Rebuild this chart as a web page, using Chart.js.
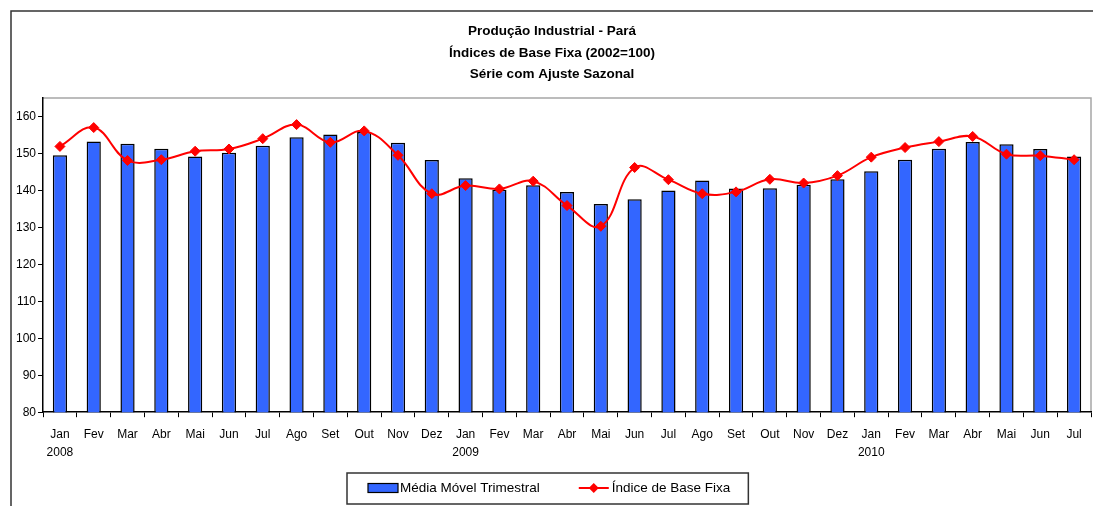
<!DOCTYPE html>
<html lang="pt-BR">
<head>
<meta charset="UTF-8">
<title>Produção Industrial - Pará</title>
<script src="https://cdn.jsdelivr.net/npm/chart.js"></script>
<style>
  html, body { margin: 0; padding: 0; background: #fff; }
  #wrap { width: 1093px; height: 506px; }
</style>
</head>
<body>
<div id="wrap"><canvas id="grafico" width="1093" height="506"></canvas></div>
<script>
// meses de jan/2008 a jul/2010
const meses = ['Jan','Fev','Mar','Abr','Mai','Jun','Jul','Ago','Set','Out','Nov','Dez',
               'Jan','Fev','Mar','Abr','Mai','Jun','Jul','Ago','Set','Out','Nov','Dez',
               'Jan','Fev','Mar','Abr','Mai','Jun','Jul'];
const anos = ['2008','','','','','','','','','','','',
              '2009','','','','','','','','','','','',
              '2010','','','','','',''];

// Média Móvel Trimestral (barras)
const mediaMovel = [149.5, 153.2, 152.6, 151.3, 149.2, 150.2, 152.1, 154.4, 155.1, 155.8, 152.9, 148.2,
                    143.3, 140.2, 141.4, 139.6, 136.3, 137.6, 140.0, 142.7, 140.5, 140.6, 141.5, 143.0,
                    145.2, 148.3, 151.3, 153.1, 152.5, 151.2, 149.2];
// Índice de Base Fixa (linha)
const indiceBase = [151.9, 157.0, 148.1, 148.3, 150.6, 151.2, 154.0, 157.8, 153.0, 156.1, 149.5, 139.1,
                    141.3, 140.4, 142.5, 135.9, 130.3, 146.2, 142.9, 139.1, 139.6, 143.0, 142.0, 144.0,
                    149.0, 151.6, 153.2, 154.6, 149.8, 149.4, 148.3];

const yTicks = [80, 90, 100, 110, 120, 130, 140, 150, 160];
const titulo = ['Produção Industrial - Pará', 'Índices de Base Fixa (2002=100)', 'Série com Ajuste Sazonal'];

const FONTE = "'Liberation Sans', Arial, sans-serif";

const rotulos = meses.map((m, i) => anos[i] ? [m, anos[i]] : m);

const molduraPlugin = {
  id: 'moldura',
  beforeDraw(chart) {
    const ctx = chart.ctx, a = chart.chartArea;
    ctx.save();
    ctx.fillStyle = '#fff';
    ctx.fillRect(0, 0, chart.width, chart.height);
    // moldura externa
    ctx.strokeStyle = '#333';
    ctx.lineWidth = 1.5;
    ctx.beginPath();
    ctx.moveTo(11, chart.height);
    ctx.lineTo(11, 11);
    ctx.lineTo(chart.width, 11);
    ctx.stroke();
    // borda da área do gráfico
    ctx.strokeStyle = '#a6a6a6';
    ctx.beginPath();
    ctx.moveTo(a.left, a.top);
    ctx.lineTo(a.right, a.top);
    ctx.lineTo(a.right, a.bottom);
    ctx.stroke();
    ctx.restore();
  },
  afterDraw(chart) {
    const ctx = chart.ctx;
    ctx.save();
    // título
    ctx.fillStyle = '#000';
    ctx.textAlign = 'center';
    ctx.textBaseline = 'alphabetic';
    ctx.font = 'bold 13.5px ' + FONTE;
    titulo.forEach((t, i) => ctx.fillText(t, 552, 35 + i * 21.5));

    // legenda
    const ds = chart.data.datasets;
    ctx.font = '13.5px ' + FONTE;
    const w1 = ctx.measureText(ds[0].label).width;
    const w2 = ctx.measureText(ds[1].label).width;
    const largura = 21 + 30 + 2 + w1 + 39 + 30 + 3 + w2 + 18;
    const x0 = Math.round(547.5 - largura / 2);
    const y0 = 473, alt = 31, yc = 488;
    ctx.strokeStyle = '#333';
    ctx.lineWidth = 1.5;
    ctx.strokeRect(x0, y0, largura, alt);
    let x = x0 + 21;
    ctx.fillStyle = ds[0].backgroundColor;
    ctx.fillRect(x, yc - 4.5, 30, 9);
    ctx.strokeStyle = '#000';
    ctx.lineWidth = 1.2;
    ctx.strokeRect(x, yc - 4.5, 30, 9);
    x += 32;
    ctx.fillStyle = '#000';
    ctx.textAlign = 'left';
    ctx.textBaseline = 'middle';
    ctx.fillText(ds[0].label, x, yc);
    x += w1 + 39;
    ctx.strokeStyle = ds[1].borderColor;
    ctx.lineWidth = 2;
    ctx.beginPath();
    ctx.moveTo(x, yc);
    ctx.lineTo(x + 30, yc);
    ctx.stroke();
    ctx.fillStyle = ds[1].borderColor;
    ctx.beginPath();
    ctx.moveTo(x + 15, yc - 5);
    ctx.lineTo(x + 20, yc);
    ctx.lineTo(x + 15, yc + 5);
    ctx.lineTo(x + 10, yc);
    ctx.closePath();
    ctx.fill();
    x += 33;
    ctx.fillStyle = '#000';
    ctx.fillText(ds[1].label, x, yc);
    ctx.restore();
  }
};

new Chart(document.getElementById('grafico'), {
  type: 'bar',
  data: {
    labels: rotulos,
    datasets: [
      {
        type: 'bar',
        label: 'Média Móvel Trimestral',
        data: mediaMovel,
        backgroundColor: '#3366ff',
        borderColor: '#000',
        borderWidth: 1.5,
        barPercentage: 0.42,
        categoryPercentage: 1,
        order: 2
      },
      {
        type: 'line',
        label: 'Índice de Base Fixa',
        data: indiceBase,
        borderColor: '#ff0000',
        backgroundColor: '#ff0000',
        borderWidth: 2,
        tension: 0.4,
        pointStyle: 'rectRot',
        pointRadius: 5,
        pointBorderWidth: 1,
        order: 1
      }
    ]
  },
  options: {
    responsive: false,
    animation: false,
    devicePixelRatio: 1,
    layout: { autoPadding: false, padding: { left: 14, right: 2, top: 98, bottom: 36 } },
    plugins: {
      legend: { display: false },
      title: { display: false },
      tooltip: { enabled: false }
    },
    scales: {
      x: {
        afterFit: s => { s.paddingLeft = 0; s.paddingRight = 0; },
        grid: { offset: true, drawOnChartArea: false, tickLength: 5, color: '#000' },
        border: { color: '#000', width: 1.5 },
        ticks: { color: '#000', font: { family: FONTE, size: 12, lineHeight: 1.45 }, maxRotation: 0, autoSkip: false, padding: 9 }
      },
      y: {
        min: 80,
        max: 165,
        afterBuildTicks: s => { s.ticks = yTicks.map(v => ({ value: v })); },
        grid: { drawOnChartArea: false, tickLength: 5, color: '#000' },
        border: { color: '#000', width: 1.5 },
        ticks: { color: '#000', font: { family: FONTE, size: 12 }, padding: 2 }
      }
    }
  },
  plugins: [molduraPlugin]
});
</script>
</body>
</html>
